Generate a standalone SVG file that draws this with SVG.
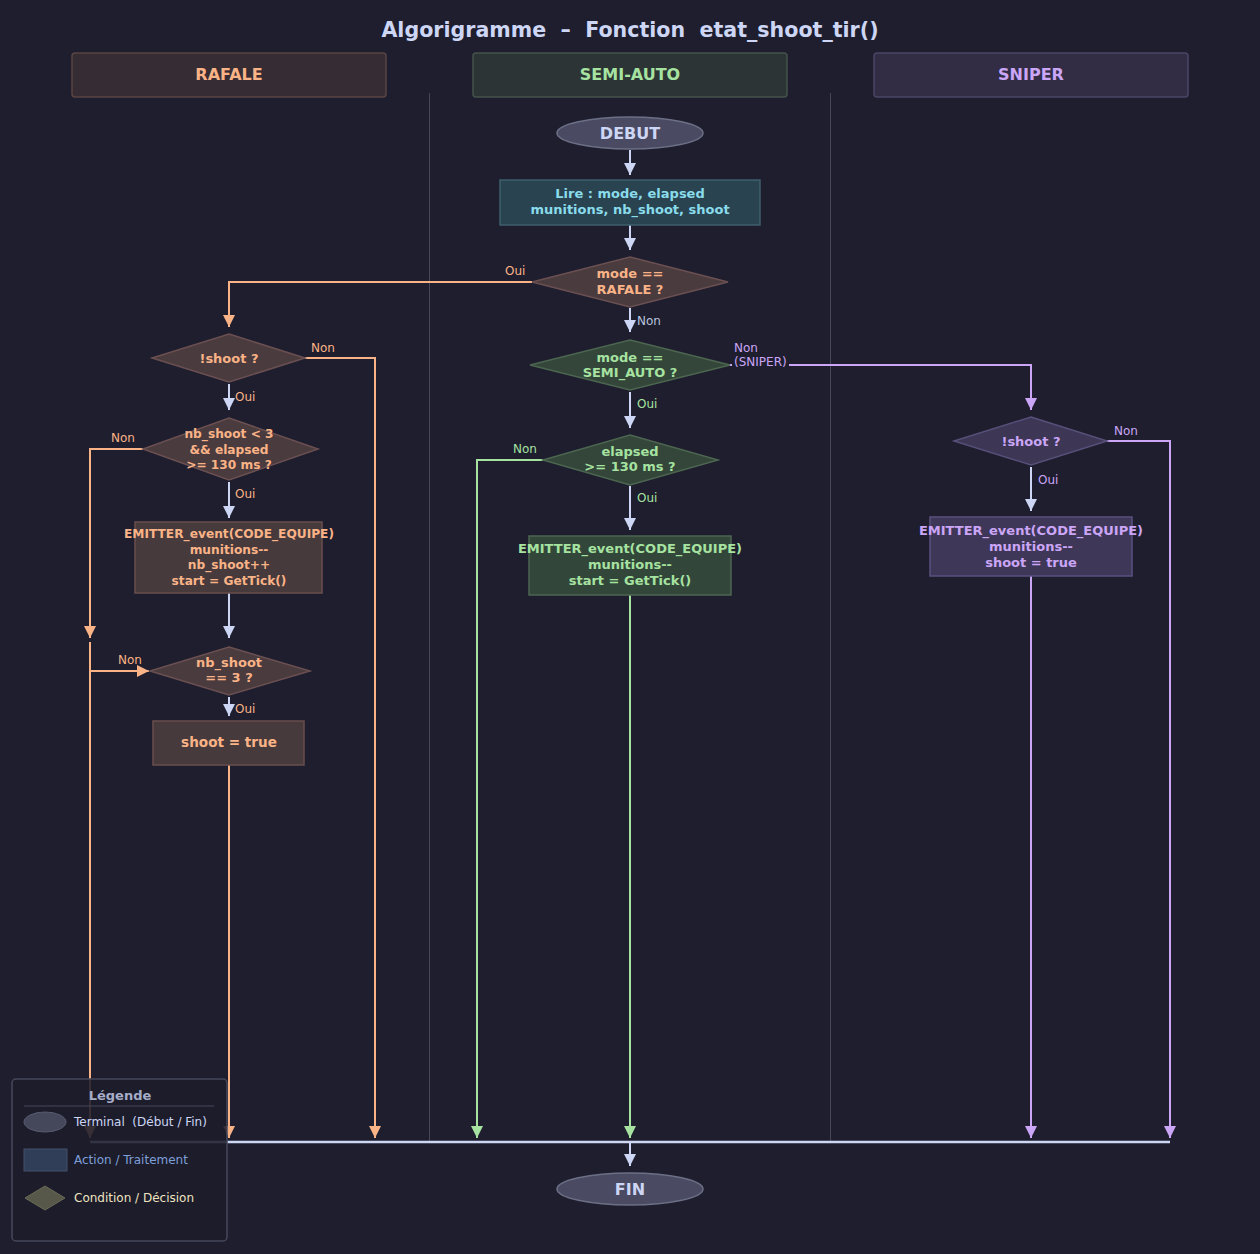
<svg xmlns="http://www.w3.org/2000/svg" width="1260" height="1254" viewBox="0 0 1260 1254">
<defs>
<style>
text{font-family:"DejaVu Sans","Liberation Sans",sans-serif}
.t{font-size:13px;font-weight:bold;text-anchor:middle}
.s{font-size:12.2px}
.lbl{font-size:12px}
.hdr{font-size:16px;font-weight:bold;text-anchor:middle}
.ln{fill:none;stroke-width:2}
.pe{stroke:#fab387}.gr{stroke:#a6e3a1}.mv{stroke:#cba6f7}.lv{stroke:#cdd6f4}
.dr{fill:#4a3b3e;stroke:#6b5052;stroke-width:1.5}
.rr{fill:#463a3c;stroke:#6a4e4e;stroke-width:1.5}
.dg{fill:#34453a;stroke:#4c6650;stroke-width:1.5}
.rg{fill:#33463a;stroke:#4c6650;stroke-width:1.5}
.ds{fill:#3d3654;stroke:#57507a;stroke-width:1.5}
.rs{fill:#3f3757;stroke:#5a5280;stroke-width:1.5}
.term{fill:#4a4b62;stroke:#6c7086;stroke-width:1.5}
</style>
<marker id="aPe" viewBox="0 0 10 10" refX="10" refY="5" markerWidth="12" markerHeight="12" markerUnits="userSpaceOnUse" orient="auto"><path d="M0,0L10,5L0,10z" fill="#fab387"/></marker>
<marker id="aGr" viewBox="0 0 10 10" refX="10" refY="5" markerWidth="12" markerHeight="12" markerUnits="userSpaceOnUse" orient="auto"><path d="M0,0L10,5L0,10z" fill="#a6e3a1"/></marker>
<marker id="aMv" viewBox="0 0 10 10" refX="10" refY="5" markerWidth="12" markerHeight="12" markerUnits="userSpaceOnUse" orient="auto"><path d="M0,0L10,5L0,10z" fill="#cba6f7"/></marker>
<marker id="aLv" viewBox="0 0 10 10" refX="10" refY="5" markerWidth="12" markerHeight="12" markerUnits="userSpaceOnUse" orient="auto"><path d="M0,0L10,5L0,10z" fill="#cdd6f4"/></marker>
</defs>
<rect width="1260" height="1254" fill="#1e1e2e"/>
<text x="630" y="37" style="font-size:20.6px;font-weight:bold;text-anchor:middle;fill:#cdd6f4" xml:space="preserve">Algorigramme  –  Fonction  etat_shoot_tir()</text>

<g id="lanes">
<rect x="72" y="53" width="314" height="44" rx="3" fill="#352d33" stroke="#5a4444" stroke-width="1.5"/>
<text class="hdr" x="229" y="80" fill="#fab387">RAFALE</text>
<rect x="473" y="53" width="314" height="44" rx="3" fill="#2d3436" stroke="#44524a" stroke-width="1.5"/>
<text class="hdr" x="630" y="80" fill="#a6e3a1">SEMI-AUTO</text>
<rect x="874" y="53" width="314" height="44" rx="3" fill="#322d45" stroke="#4a4566" stroke-width="1.5"/>
<text class="hdr" x="1031" y="80" fill="#cba6f7">SNIPER</text>
<line x1="429.5" y1="93" x2="429.5" y2="1142" stroke="#45475a" stroke-width="1"/>
<line x1="830.5" y1="93" x2="830.5" y2="1142" stroke="#45475a" stroke-width="1"/>
</g>

<g id="connectors">
<path class="ln lv" d="M630,150V175" marker-end="url(#aLv)"/>
<path class="ln lv" d="M630,225V250" marker-end="url(#aLv)"/>
<path class="ln pe" d="M532,282H229V327" marker-end="url(#aPe)"/>
<text class="lbl" x="505" y="275" fill="#fab387">Oui</text>
<path class="ln lv" d="M630,308V332" marker-end="url(#aLv)"/>
<text class="lbl" x="637" y="325" fill="#bac2de">Non</text>
<path class="ln mv" d="M728,365H1031V410" marker-end="url(#aMv)"/>
<rect x="732" y="355" width="57" height="14" fill="#1e1e2e"/>
<text class="lbl" x="734" y="352" fill="#cba6f7">Non</text>
<text class="lbl" x="734" y="366" fill="#cba6f7">(SNIPER)</text>
<path class="ln lv" d="M630,392V428" marker-end="url(#aLv)"/>
<text class="lbl" x="637" y="408" fill="#a6e3a1">Oui</text>
<path class="ln gr" d="M543,460H477V1138" marker-end="url(#aGr)"/>
<text class="lbl" x="513" y="453" fill="#a6e3a1">Non</text>
<path class="ln lv" d="M630,486V530" marker-end="url(#aLv)"/>
<text class="lbl" x="637" y="502" fill="#a6e3a1">Oui</text>
<path class="ln gr" d="M630,595V1138" marker-end="url(#aGr)"/>

<path class="ln pe" d="M305,358H375V1138" marker-end="url(#aPe)"/>
<text class="lbl" x="311" y="352" fill="#fab387">Non</text>
<path class="ln lv" d="M229,384V410" marker-end="url(#aLv)"/>
<text class="lbl" x="235" y="401" fill="#fab387">Oui</text>
<path class="ln pe" d="M143,449H90V638" marker-end="url(#aPe)"/>
<text class="lbl" x="111" y="442" fill="#fab387">Non</text>
<path class="ln lv" d="M229,482V518" marker-end="url(#aLv)"/>
<text class="lbl" x="235" y="498" fill="#fab387">Oui</text>
<path class="ln lv" d="M229,593V638" marker-end="url(#aLv)"/>
<path class="ln pe" d="M90,642V1138" marker-end="url(#aPe)"/>
<path class="ln pe" d="M90,671H149" marker-end="url(#aPe)"/>
<text class="lbl" x="118" y="664" fill="#fab387">Non</text>
<path class="ln lv" d="M229,697V716" marker-end="url(#aLv)"/>
<text class="lbl" x="235" y="713" fill="#fab387">Oui</text>
<path class="ln pe" d="M229,765V1138" marker-end="url(#aPe)"/>

<path class="ln mv" d="M1107,441H1170V1138" marker-end="url(#aMv)"/>
<text class="lbl" x="1114" y="435" fill="#cba6f7">Non</text>
<path class="ln lv" d="M1031,467V511" marker-end="url(#aLv)"/>
<text class="lbl" x="1038" y="484" fill="#cba6f7">Oui</text>
<path class="ln mv" d="M1031,576V1138" marker-end="url(#aMv)"/>

<path d="M90,1142H1170" fill="none" stroke="#cdd6f4" stroke-width="2.5"/>
<path class="ln lv" d="M630,1143V1166" marker-end="url(#aLv)"/>
</g>

<g id="debut">
<ellipse class="term" cx="630" cy="133" rx="73" ry="16"/>
<text x="630" y="139" style="font-size:16px;font-weight:bold;text-anchor:middle;fill:#cdd6f4">DEBUT</text>
</g>
<g id="lire">
<rect x="500" y="180" width="260" height="45" fill="#2a4350" stroke="#3f5f6c" stroke-width="1.5"/>
<text class="t" x="630" y="198" fill="#89dceb">Lire : mode, elapsed</text>
<text class="t" x="630" y="214" fill="#89dceb">munitions, nb_shoot, shoot</text>
</g>
<g id="mode_rafale">
<polygon class="dr" points="630,257 728,282 630,307 532,282"/>
<text class="t" x="630" y="278" fill="#fab387">mode ==</text>
<text class="t" x="630" y="294" fill="#fab387">RAFALE ?</text>
</g>
<g id="mode_semi">
<polygon class="dg" points="630,340 730,365 630,390 530,365"/>
<text class="t" x="630" y="362" fill="#a6e3a1">mode ==</text>
<text class="t" x="630" y="377" fill="#a6e3a1">SEMI_AUTO ?</text>
</g>
<g id="semi_elapsed">
<polygon class="dg" points="630,435 718,460 630,485 543,460"/>
<text class="t" x="630" y="456" fill="#a6e3a1">elapsed</text>
<text class="t" x="630" y="471" fill="#a6e3a1">&gt;= 130 ms ?</text>
</g>
<g id="semi_emit">
<rect class="rg" x="529" y="536" width="202" height="59"/>
<text class="t" x="630" y="553" fill="#a6e3a1">EMITTER_event(CODE_EQUIPE)</text>
<text class="t" x="630" y="569" fill="#a6e3a1">munitions--</text>
<text class="t" x="630" y="585" fill="#a6e3a1">start = GetTick()</text>
</g>

<g id="raf_shoot">
<polygon class="dr" points="229,334 305,358 229,382 152,358"/>
<text class="t" x="229" y="363" fill="#fab387">!shoot ?</text>
</g>
<g id="raf_cond">
<polygon class="dr" points="229,418 318,449 229,480 143,449"/>
<text class="t s" x="229" y="438" fill="#fab387">nb_shoot &lt; 3</text>
<text class="t s" x="229" y="454" fill="#fab387">&amp;&amp; elapsed</text>
<text class="t s" x="229" y="469" fill="#fab387">&gt;= 130 ms ?</text>
</g>
<g id="raf_emit">
<rect class="rr" x="135" y="522" width="187" height="71"/>
<text class="t s" x="229" y="538" fill="#fab387">EMITTER_event(CODE_EQUIPE)</text>
<text class="t s" x="229" y="554" fill="#fab387">munitions--</text>
<text class="t s" x="229" y="569" fill="#fab387">nb_shoot++</text>
<text class="t s" x="229" y="585" fill="#fab387">start = GetTick()</text>
</g>
<g id="raf_nb3">
<polygon class="dr" points="229,647 310,671 229,695 150,671"/>
<text class="t" x="229" y="667" fill="#fab387">nb_shoot</text>
<text class="t" x="229" y="682" fill="#fab387">== 3 ?</text>
</g>
<g id="raf_true">
<rect class="rr" x="153" y="721" width="151" height="44"/>
<text x="229" y="747" style="font-size:13.6px;font-weight:bold;text-anchor:middle;fill:#fab387">shoot = true</text>
</g>

<g id="sni_shoot">
<polygon class="ds" points="1031,417 1107,441 1031,465 954,441"/>
<text class="t" x="1031" y="446" fill="#cba6f7">!shoot ?</text>
</g>
<g id="sni_emit">
<rect class="rs" x="930" y="517" width="202" height="59"/>
<text class="t" x="1031" y="535" fill="#cba6f7">EMITTER_event(CODE_EQUIPE)</text>
<text class="t" x="1031" y="551" fill="#cba6f7">munitions--</text>
<text class="t" x="1031" y="567" fill="#cba6f7">shoot = true</text>
</g>

<g id="fin">
<ellipse class="term" cx="630" cy="1189" rx="73" ry="16"/>
<text x="630" y="1195" style="font-size:16px;font-weight:bold;text-anchor:middle;fill:#cdd6f4">FIN</text>
</g>

<g id="legend">
<rect x="12" y="1079" width="215" height="162" rx="4" fill="#1c1c2b" fill-opacity="0.88" stroke="#45475a" stroke-width="1.5"/>
<text x="120" y="1100" style="font-size:13px;font-weight:bold;text-anchor:middle;fill:#a6adc8">Légende</text>
<line x1="24" y1="1106" x2="214" y2="1106" stroke="#45475a" stroke-width="1"/>
<ellipse cx="45" cy="1122" rx="21" ry="10" fill="#45475a" stroke="#585b70" stroke-width="1"/>
<text x="74" y="1126" style="font-size:12px;fill:#cdd6f4" xml:space="preserve">Terminal  (Début / Fin)</text>
<rect x="24" y="1149" width="43" height="22" fill="#313e58" stroke="#45506a" stroke-width="1"/>
<text x="74" y="1164" style="font-size:12px;fill:#7f9fd8">Action / Traitement</text>
<polygon points="45,1186 65,1198 45,1210 25,1198" fill="#58584a" stroke="#6a6a58" stroke-width="1"/>
<text x="74" y="1202" style="font-size:12px;fill:#efe3c0">Condition / Décision</text>
</g>
</svg>
